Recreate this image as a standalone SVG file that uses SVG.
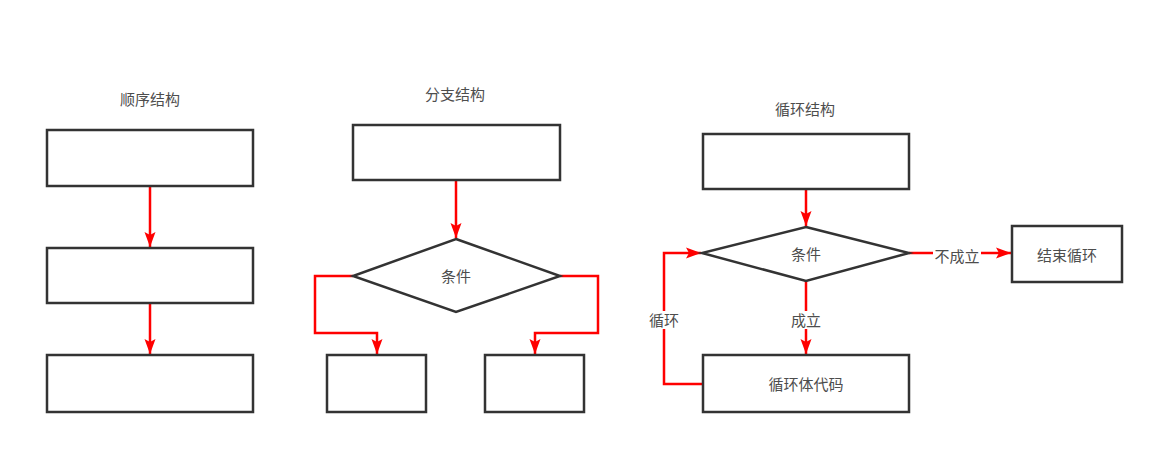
<svg xmlns="http://www.w3.org/2000/svg" width="1164" height="455" viewBox="0 0 1164 455">
<style>
.box{fill:#fff;stroke:#333;stroke-width:2.5}
.ln{fill:none;stroke:#ff0000;stroke-width:2.5}
.t{font-family:"Liberation Sans","Noto Sans CJK SC",sans-serif;font-size:15px;fill:#4d4d4d;text-anchor:middle;dominant-baseline:central}
.lb{fill:#fff}
</style>
<defs>
<marker id="ah" markerUnits="userSpaceOnUse" markerWidth="16" markerHeight="12" refX="15" refY="6" orient="auto">
<path d="M0,0.5 L15,6 L0,11.5 L3,6 Z" fill="#ff0000"/>
</marker>
</defs>
<rect width="1164" height="455" fill="#fff"/>
<g id="titles">
<text class="t" x="150" y="99">顺序结构</text>
<text class="t" x="455" y="94">分支结构</text>
<text class="t" x="805" y="109">循环结构</text>
</g>
<g id="connectors">
<path class="ln" d="M150,186 V247" marker-end="url(#ah)"/>
<path class="ln" d="M150,303 V354" marker-end="url(#ah)"/>
<path class="ln" d="M456,180 V238" marker-end="url(#ah)"/>
<path class="ln" d="M353,276 H315 V333 H377 V354" marker-end="url(#ah)"/>
<path class="ln" d="M560,276 H598 V333 H535 V354" marker-end="url(#ah)"/>
<path class="ln" d="M806,189 V226" marker-end="url(#ah)"/>
<path class="ln" d="M806,281 V354" marker-end="url(#ah)"/>
<path class="ln" d="M703,384 H664 V253 H701" marker-end="url(#ah)"/>
<path class="ln" d="M909,253 H1011" marker-end="url(#ah)"/>
<rect class="lb" x="787" y="311" width="38" height="18"/>
<text class="t" x="806" y="320">成立</text>
<rect class="lb" x="645" y="311" width="38" height="18"/>
<text class="t" x="664" y="320">循环</text>
<rect class="lb" x="933" y="247" width="48" height="18"/>
<text class="t" x="957" y="256">不成立</text>
</g>
<g id="seq1"><rect class="box" x="47" y="130" width="206" height="56"/></g>
<g id="seq2"><rect class="box" x="47" y="248" width="206" height="55"/></g>
<g id="seq3"><rect class="box" x="47" y="355" width="206" height="57"/></g>
<g id="br-top"><rect class="box" x="353" y="125" width="207" height="55"/></g>
<g id="br-cond"><polygon class="box" points="456,239 560,276 456,312 353,276"/><text class="t" x="456" y="276">条件</text></g>
<g id="br-left"><rect class="box" x="327" y="355" width="99" height="57"/></g>
<g id="br-right"><rect class="box" x="485" y="355" width="99" height="57"/></g>
<g id="lp-top"><rect class="box" x="703" y="134" width="206" height="55"/></g>
<g id="lp-cond"><polygon class="box" points="806,227 909,253 806,281 702,253"/><text class="t" x="806" y="254">条件</text></g>
<g id="lp-body"><rect class="box" x="703" y="355" width="206" height="57"/><text class="t" x="806" y="384">循环体代码</text></g>
<g id="lp-end"><rect class="box" x="1012" y="226" width="110" height="56"/><text class="t" x="1067" y="255">结束循环</text></g>
</svg>
